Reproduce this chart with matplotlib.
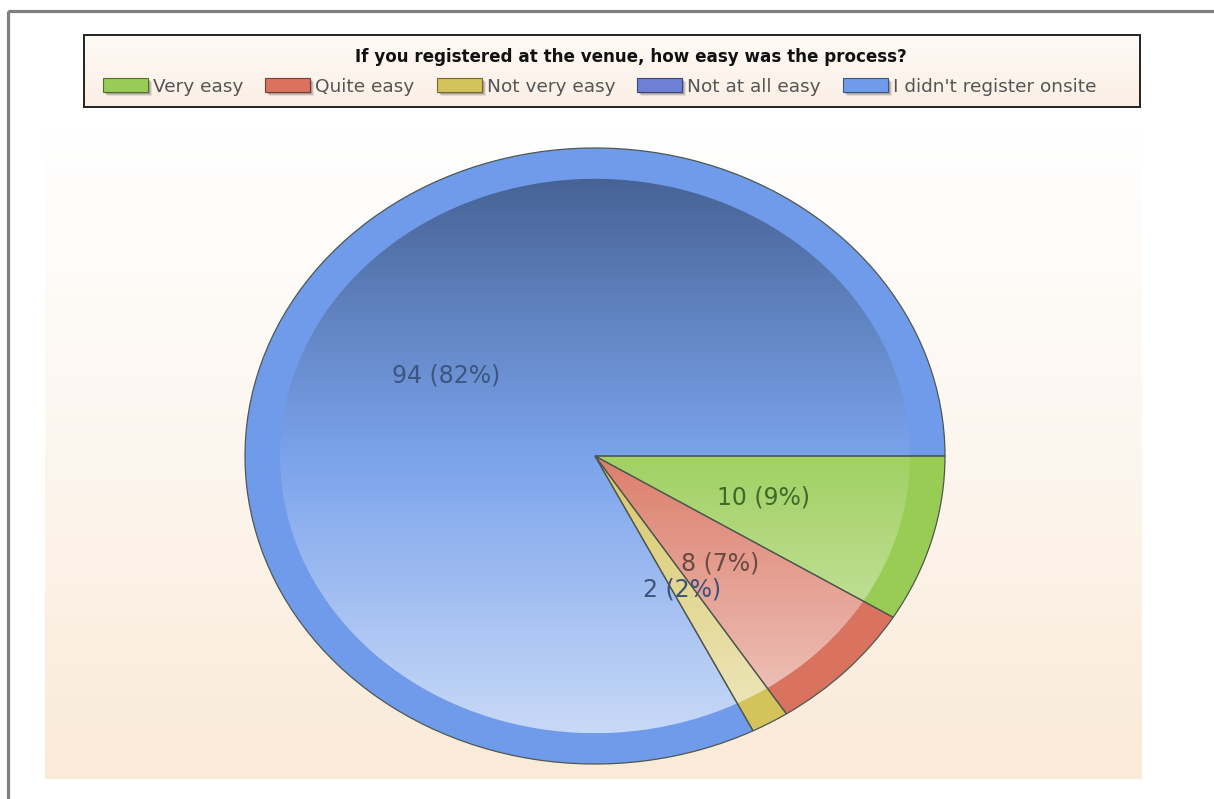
import numpy as np
import matplotlib
matplotlib.use("Agg")
import matplotlib.pyplot as plt
from matplotlib.patches import Rectangle, Wedge
from matplotlib.colors import to_rgb, LinearSegmentedColormap

# ---------------- data ----------------
title = "If you registered at the venue, how easy was the process?"
categories = ["Very easy", "Quite easy", "Not very easy", "Not at all easy",
              "I didn't register onsite"]
counts = [10, 8, 2, 0, 94]
slice_colors = ["#99CC55", "#D9735F", "#D4C25A", "#6E80D6", "#6F9BEA"]
label_colors = ["#3F6B2A", "#6B4A44", "#3C5278", "#3C5278", "#3B5680"]

W, H = 1214, 799
fig = plt.figure(figsize=(W / 100, H / 100), dpi=100)
fig.patch.set_facecolor("white")

# background axes in pixel coordinates
bg = fig.add_axes([0, 0, 1, 1])
bg.axis("off")

grad = np.linspace(0, 1, 256)[:, None]

# plot area gradient
pa_cmap = LinearSegmentedColormap.from_list("pa", ["#FFFFFF", "#FDF6EF", "#FAEAD8"])
bg.imshow(grad, extent=(45, 1142, 779, 128), cmap=pa_cmap, aspect="auto",
          origin="upper", zorder=0, interpolation="bilinear")

# outer frame
bg.add_patch(Rectangle((7.5, 10.5), W + 20, H + 20, fill=False,
                       edgecolor="#808080", lw=2.3, zorder=1))

# legend box
lg_cmap = LinearSegmentedColormap.from_list("lg", ["#FEFAF6", "#FBEFE4"])
bg.imshow(grad, extent=(84, 1140, 107, 35), cmap=lg_cmap, aspect="auto",
          origin="upper", zorder=1, interpolation="bilinear")
bg.add_patch(Rectangle((84, 35), 1056, 72, fill=False, edgecolor="#222222",
                       lw=1.4, zorder=2))
bg.set_xlim(0, W)
bg.set_ylim(H, 0)

renderer = fig.canvas.get_renderer()

# title fitted to measured width
tt = bg.text(631, 61.5, title, fontweight="bold", fontsize=12, ha="center",
             va="baseline", color="#111111", zorder=3)
tw = tt.get_window_extent(renderer).width
tt.set_fontsize(12 * 553 / tw)

# legend entries laid out sequentially
x = 103
for cat, col in zip(categories, slice_colors):
    c = np.array(to_rgb(col))
    for k, a in enumerate([0.12, 0.18, 0.25]):
        off = 4 - k
        bg.add_patch(Rectangle((x + off, 78 + off), 45, 14, facecolor="#404040",
                               edgecolor="none", alpha=a, zorder=2))
    bg.add_patch(Rectangle((x, 78), 45, 14, facecolor=col,
                           edgecolor=tuple(c * 0.55), lw=0.8, zorder=3))
    t = bg.text(x + 50, 92, cat, fontsize=13.3, color="#555555", ha="left",
                va="baseline", zorder=3)
    x = x + 50 + t.get_window_extent(renderer).width + 22

# ---------------- pie ----------------
ax = fig.add_axes([245 / W, 1 - 764 / H, 700 / W, 616 / H])
total = sum(counts)


def fmt(pct):
    v = int(round(pct * total / 100.0))
    return "" if v == 0 else f"{v} ({pct:.0f}%)"


wedges, texts, autotexts = ax.pie(
    counts, colors=slice_colors, startangle=0, counterclock=False, radius=1,
    autopct=fmt, pctdistance=0.5, wedgeprops=dict(linewidth=0),
    textprops=dict(fontsize=17))

for w, cnt, col in zip(wedges, counts, slice_colors):
    w.set_clip_on(False)
    if cnt == 0:
        w.set_visible(False)
        continue
    base = np.array(to_rgb(col))
    dark = base * 0.64
    mid = base + (1 - base) * 0.08
    light = base + (1 - base) * 0.62
    cm = LinearSegmentedColormap.from_list("s", [dark, mid, light])
    inner = Wedge((0, 0), 0.9, w.theta1, w.theta2, facecolor="none",
                  edgecolor="none")
    ax.add_patch(inner)
    im = ax.imshow(grad, extent=(-0.9, 0.9, -0.9, 0.9), cmap=cm, aspect="auto",
                   origin="upper", zorder=2, interpolation="bilinear")
    im.set_clip_path(inner)
    ax.add_patch(Wedge((0, 0), 1, w.theta1, w.theta2, fill=False,
                       edgecolor="#4E5850", lw=0.9, zorder=3, clip_on=False))

for at, col in zip(autotexts, label_colors):
    at.set_color(col)
    at.set_zorder(5)

ax.set_xlim(-1, 1)
ax.set_ylim(-1, 1)
ax.set_aspect("auto")
ax.axis("off")

fig.savefig("out.png", dpi=100, facecolor="white")
